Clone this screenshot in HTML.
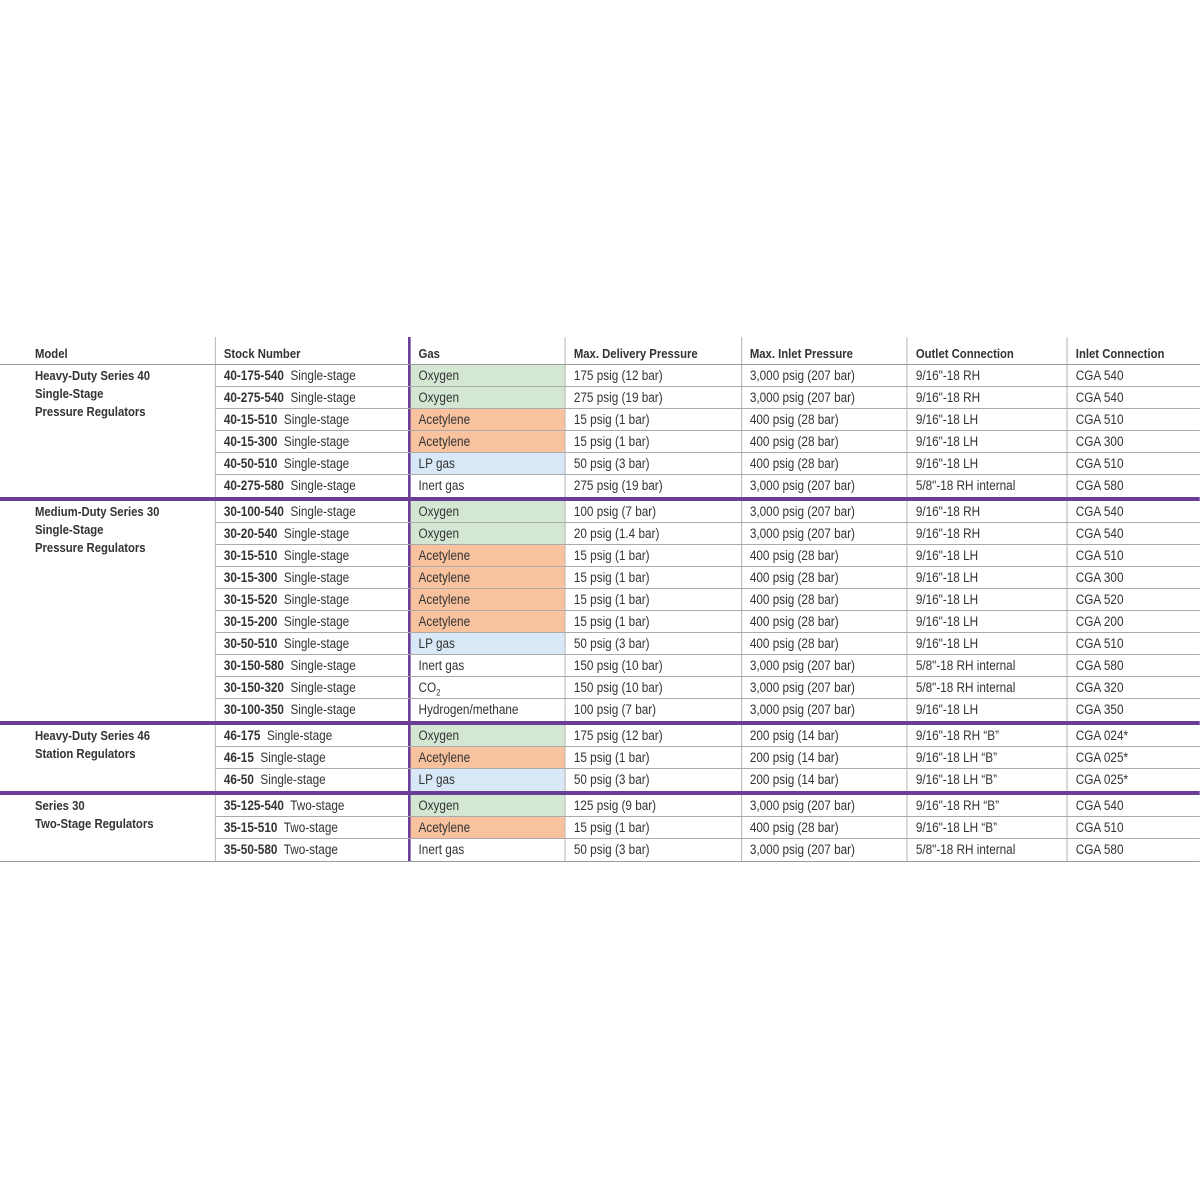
<!DOCTYPE html>
<html><head><meta charset="utf-8"><style>
*{margin:0;padding:0;box-sizing:border-box}
body{width:1200px;height:1200px;background:#fff;position:relative;font-family:"Liberation Sans Narrow","Liberation Sans",sans-serif;color:#333;font-size:13.5px;overflow:hidden}
#t{position:absolute;left:0;top:337px;width:1379.3px;transform:scaleX(0.87);transform-origin:0 0}
.hdr{display:flex;height:28px;border-bottom:1px solid #999}
.hdr div{font-weight:bold;padding-top:8px;font-size:13px;line-height:18px}
.sec{display:flex;border-bottom:4px solid #6a3d98}
.sec.last{border-bottom:1px solid #999}
.model{width:247.1px;padding:2px 0 0 40.2px;font-weight:bold;line-height:18px;font-size:13px}
.rows{width:1132.2px}
.r{display:flex;height:22px;border-bottom:1px solid #aaa}
.r:last-child{border-bottom:none}
.c{line-height:21px;padding-left:9.2px;white-space:nowrap;border-left:1.15px solid #aaa}
.c1{width:221.8px}
.c2{width:180.5px;border-left:3.5px solid #6a3d98 !important}
.c3{width:202.3px}
.c4{width:190.8px}
.c5{width:183.9px}
.c6{width:152.9px}
.ox{background:#d3e7d3}
.ac{background:#f8c29e}
.lp{background:#d8e8f6}
b{font-weight:bold}
</style></head><body>
<div id="t">
<div class="hdr"><div style="width:247.1px;padding-left:40.2px">Model</div><div class="c c1">Stock Number</div><div class="c c2">Gas</div><div class="c c3">Max. Delivery Pressure</div><div class="c c4">Max. Inlet Pressure</div><div class="c c5">Outlet Connection</div><div class="c c6">Inlet Connection</div></div>

<div class="sec"><div class="model">Heavy-Duty Series 40<br>Single-Stage<br>Pressure Regulators</div><div class="rows">
<div class="r"><div class="c c1"><b>40-175-540</b>&nbsp; Single-stage</div><div class="c c2 ox">Oxygen</div><div class="c c3">175 psig (12 bar)</div><div class="c c4">3,000 psig (207 bar)</div><div class="c c5">9/16"-18 RH</div><div class="c c6">CGA 540</div></div>
<div class="r"><div class="c c1"><b>40-275-540</b>&nbsp; Single-stage</div><div class="c c2 ox">Oxygen</div><div class="c c3">275 psig (19 bar)</div><div class="c c4">3,000 psig (207 bar)</div><div class="c c5">9/16"-18 RH</div><div class="c c6">CGA 540</div></div>
<div class="r"><div class="c c1"><b>40-15-510</b>&nbsp; Single-stage</div><div class="c c2 ac">Acetylene</div><div class="c c3">15 psig (1 bar)</div><div class="c c4">400 psig (28 bar)</div><div class="c c5">9/16"-18 LH</div><div class="c c6">CGA 510</div></div>
<div class="r"><div class="c c1"><b>40-15-300</b>&nbsp; Single-stage</div><div class="c c2 ac">Acetylene</div><div class="c c3">15 psig (1 bar)</div><div class="c c4">400 psig (28 bar)</div><div class="c c5">9/16"-18 LH</div><div class="c c6">CGA 300</div></div>
<div class="r"><div class="c c1"><b>40-50-510</b>&nbsp; Single-stage</div><div class="c c2 lp">LP gas</div><div class="c c3">50 psig (3 bar)</div><div class="c c4">400 psig (28 bar)</div><div class="c c5">9/16"-18 LH</div><div class="c c6">CGA 510</div></div>
<div class="r"><div class="c c1"><b>40-275-580</b>&nbsp; Single-stage</div><div class="c c2">Inert gas</div><div class="c c3">275 psig (19 bar)</div><div class="c c4">3,000 psig (207 bar)</div><div class="c c5">5/8"-18 RH internal</div><div class="c c6">CGA 580</div></div>
</div></div>

<div class="sec"><div class="model">Medium-Duty Series 30<br>Single-Stage<br>Pressure Regulators</div><div class="rows">
<div class="r"><div class="c c1"><b>30-100-540</b>&nbsp; Single-stage</div><div class="c c2 ox">Oxygen</div><div class="c c3">100 psig (7 bar)</div><div class="c c4">3,000 psig (207 bar)</div><div class="c c5">9/16"-18 RH</div><div class="c c6">CGA 540</div></div>
<div class="r"><div class="c c1"><b>30-20-540</b>&nbsp; Single-stage</div><div class="c c2 ox">Oxygen</div><div class="c c3">20 psig (1.4 bar)</div><div class="c c4">3,000 psig (207 bar)</div><div class="c c5">9/16"-18 RH</div><div class="c c6">CGA 540</div></div>
<div class="r"><div class="c c1"><b>30-15-510</b>&nbsp; Single-stage</div><div class="c c2 ac">Acetylene</div><div class="c c3">15 psig (1 bar)</div><div class="c c4">400 psig (28 bar)</div><div class="c c5">9/16"-18 LH</div><div class="c c6">CGA 510</div></div>
<div class="r"><div class="c c1"><b>30-15-300</b>&nbsp; Single-stage</div><div class="c c2 ac">Acetylene</div><div class="c c3">15 psig (1 bar)</div><div class="c c4">400 psig (28 bar)</div><div class="c c5">9/16"-18 LH</div><div class="c c6">CGA 300</div></div>
<div class="r"><div class="c c1"><b>30-15-520</b>&nbsp; Single-stage</div><div class="c c2 ac">Acetylene</div><div class="c c3">15 psig (1 bar)</div><div class="c c4">400 psig (28 bar)</div><div class="c c5">9/16"-18 LH</div><div class="c c6">CGA 520</div></div>
<div class="r"><div class="c c1"><b>30-15-200</b>&nbsp; Single-stage</div><div class="c c2 ac">Acetylene</div><div class="c c3">15 psig (1 bar)</div><div class="c c4">400 psig (28 bar)</div><div class="c c5">9/16"-18 LH</div><div class="c c6">CGA 200</div></div>
<div class="r"><div class="c c1"><b>30-50-510</b>&nbsp; Single-stage</div><div class="c c2 lp">LP gas</div><div class="c c3">50 psig (3 bar)</div><div class="c c4">400 psig (28 bar)</div><div class="c c5">9/16"-18 LH</div><div class="c c6">CGA 510</div></div>
<div class="r"><div class="c c1"><b>30-150-580</b>&nbsp; Single-stage</div><div class="c c2">Inert gas</div><div class="c c3">150 psig (10 bar)</div><div class="c c4">3,000 psig (207 bar)</div><div class="c c5">5/8"-18 RH internal</div><div class="c c6">CGA 580</div></div>
<div class="r"><div class="c c1"><b>30-150-320</b>&nbsp; Single-stage</div><div class="c c2">CO<sub style="font-size:9px">2</sub></div><div class="c c3">150 psig (10 bar)</div><div class="c c4">3,000 psig (207 bar)</div><div class="c c5">5/8"-18 RH internal</div><div class="c c6">CGA 320</div></div>
<div class="r"><div class="c c1"><b>30-100-350</b>&nbsp; Single-stage</div><div class="c c2">Hydrogen/methane</div><div class="c c3">100 psig (7 bar)</div><div class="c c4">3,000 psig (207 bar)</div><div class="c c5">9/16"-18 LH</div><div class="c c6">CGA 350</div></div>
</div></div>

<div class="sec"><div class="model">Heavy-Duty Series 46<br>Station Regulators</div><div class="rows">
<div class="r"><div class="c c1"><b>46-175</b>&nbsp; Single-stage</div><div class="c c2 ox">Oxygen</div><div class="c c3">175 psig (12 bar)</div><div class="c c4">200 psig (14 bar)</div><div class="c c5">9/16"-18 RH “B”</div><div class="c c6">CGA 024*</div></div>
<div class="r"><div class="c c1"><b>46-15</b>&nbsp; Single-stage</div><div class="c c2 ac">Acetylene</div><div class="c c3">15 psig (1 bar)</div><div class="c c4">200 psig (14 bar)</div><div class="c c5">9/16"-18 LH “B”</div><div class="c c6">CGA 025*</div></div>
<div class="r"><div class="c c1"><b>46-50</b>&nbsp; Single-stage</div><div class="c c2 lp">LP gas</div><div class="c c3">50 psig (3 bar)</div><div class="c c4">200 psig (14 bar)</div><div class="c c5">9/16"-18 LH “B”</div><div class="c c6">CGA 025*</div></div>
</div></div>

<div class="sec last"><div class="model">Series 30<br>Two-Stage Regulators</div><div class="rows">
<div class="r"><div class="c c1"><b>35-125-540</b>&nbsp; Two-stage</div><div class="c c2 ox">Oxygen</div><div class="c c3">125 psig (9 bar)</div><div class="c c4">3,000 psig (207 bar)</div><div class="c c5">9/16"-18 RH “B”</div><div class="c c6">CGA 540</div></div>
<div class="r"><div class="c c1"><b>35-15-510</b>&nbsp; Two-stage</div><div class="c c2 ac">Acetylene</div><div class="c c3">15 psig (1 bar)</div><div class="c c4">400 psig (28 bar)</div><div class="c c5">9/16"-18 LH “B”</div><div class="c c6">CGA 510</div></div>
<div class="r"><div class="c c1"><b>35-50-580</b>&nbsp; Two-stage</div><div class="c c2">Inert gas</div><div class="c c3">50 psig (3 bar)</div><div class="c c4">3,000 psig (207 bar)</div><div class="c c5">5/8"-18 RH internal</div><div class="c c6">CGA 580</div></div>
</div></div>
</div>
</body></html>
